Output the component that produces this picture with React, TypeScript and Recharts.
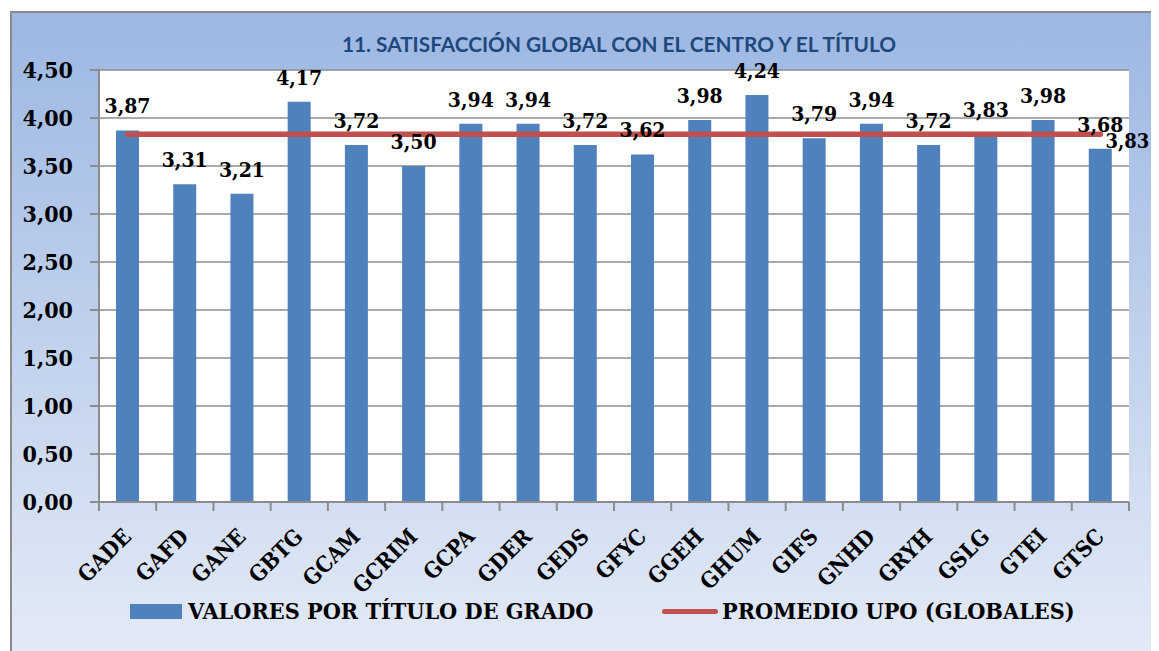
import { ComposedChart, Bar, Line, XAxis, YAxis, CartesianGrid, LabelList, Legend } from "recharts"

const grados = [
  "GADE", "GAFD", "GANE", "GBTG", "GCAM", "GCRIM", "GCPA", "GDER", "GEDS",
  "GFYC", "GGEH", "GHUM", "GIFS", "GNHD", "GRYH", "GSLG", "GTEI", "GTSC",
]
const valoresGrado = [
  3.87, 3.31, 3.21, 4.17, 3.72, 3.5, 3.94, 3.94, 3.72,
  3.62, 3.98, 4.24, 3.79, 3.94, 3.72, 3.83, 3.98, 3.68,
]
const promedioUPO = [
  3.83, 3.83, 3.83, 3.83, 3.83, 3.83, 3.83, 3.83, 3.83,
  3.83, 3.83, 3.83, 3.83, 3.83, 3.83, 3.83, 3.83, 3.83,
]
const yTicks = [0, 0.5, 1, 1.5, 2, 2.5, 3, 3.5, 4, 4.5]

const TITULO = "11. SATISFACCIÓN GLOBAL CON EL CENTRO Y EL TÍTULO"
const SERIE_BARRAS = "VALORES POR TÍTULO DE GRADO"
const SERIE_LINEA = "PROMEDIO UPO (GLOBALES)"

const data = grados.map((g, i) => ({ grado: g, valor: valoresGrado[i], promedio: promedioUPO[i] }))

const AZUL = "#4F81BD"
const ROJO = "#C0504D"
const GRIS = "#8c8c8c"
const SERIF = "'DejaVu Serif', serif"
const STRETCH = "condensed"

const fmt = (v: number | string) => Number(v).toFixed(2).replace(".", ",")

const XTick = (props: any) => {
  const { x, y, payload, index, visibleTicksCount } = props
  const half = payload?.offset ?? 28.6
  const last = index === (visibleTicksCount ?? grados.length) - 1
  return (
    <g>
      <line x1={x - half} y1={y} x2={x - half} y2={y + 9} stroke={GRIS} strokeWidth={2} />
      {last && <line x1={x + half} y1={y} x2={x + half} y2={y + 9} stroke={GRIS} strokeWidth={2} />}
      <g transform={`translate(${x + 5},${y + 36})`}>
        <text
          textAnchor="end"
          transform="rotate(-45)"
          fontFamily={SERIF}
          fontWeight="bold"
          fontSize={22}
          style={{ fontStretch: STRETCH }}
          fill="#000"
        >
          {payload.value}
        </text>
      </g>
    </g>
  )
}

const barLabel = (p: any) => (
  <text
    x={p.x + p.width / 2}
    y={p.y - 17}
    textAnchor="middle"
    fontFamily={SERIF}
    fontWeight="bold"
    fontSize={21}
    style={{ fontStretch: STRETCH }}
    fill="#000"
  >
    {fmt(p.value)}
  </text>
)

// solo el último punto de la línea lleva etiqueta
const lineLabel = (p: any) =>
  p.index === grados.length - 1 ? (
    <text
      x={p.x + 5}
      y={p.y + 14}
      fontFamily={SERIF}
      fontWeight="bold"
      fontSize={20}
      style={{ fontStretch: STRETCH }}
      fill="#000"
    >
      {fmt(p.value)}
    </text>
  ) : null

const renderLegend = () => (
  <div
    style={{
      position: "relative",
      width: 1147,
      height: 30,
      fontFamily: SERIF,
      fontWeight: "bold",
      fontSize: 23.2,
      fontStretch: STRETCH,
    }}
  >
    <div style={{ position: "absolute", left: 118, top: 8, width: 52, height: 15, background: AZUL }} />
    <div style={{ position: "absolute", left: 176, top: 2, whiteSpace: "nowrap", lineHeight: "26px" }}>{SERIE_BARRAS}</div>
    <div style={{ position: "absolute", left: 650, top: 13, width: 56, height: 5, borderRadius: 3, background: ROJO }} />
    <div style={{ position: "absolute", left: 710, top: 2, whiteSpace: "nowrap", lineHeight: "26px" }}>{SERIE_LINEA}</div>
  </div>
)

export default function App() {
  return (
    <div
      style={{
        position: "relative",
        marginLeft: 2,
        marginTop: 3,
        width: 1149,
        height: 640,
        boxSizing: "border-box",
        borderLeft: "2px solid #8a8a8a",
        borderTop: "2px solid #8a8a8a",
        background: "linear-gradient(to bottom, #9cb7e3 0%, #e3eaf6 100%)",
        overflow: "hidden",
      }}
    >
      <div
        style={{
          position: "absolute",
          left: 607,
          top: 18,
          transform: "translateX(-50%)",
          whiteSpace: "nowrap",
          fontFamily: "Lato, 'Open Sans', sans-serif",
          fontWeight: "bold",
          fontSize: 20.8,
          color: "#1F497D",
        }}
      >
        {TITULO}
      </div>
      <ComposedChart
        width={1147}
        height={638}
        data={data}
        margin={{ top: 57, right: 30, left: 7, bottom: 59 }}
        barCategoryGap="60%"
      >
        <CartesianGrid vertical={false} stroke={GRIS} strokeWidth={1.5} fill="#ffffff" fillOpacity={1} />
        <XAxis
          dataKey="grado"
          height={90}
          interval={0}
          tickSize={0}
          tickMargin={0}
          tickLine={false}
          axisLine={{ stroke: GRIS, strokeWidth: 2 }}
          tick={<XTick />}
        />
        <YAxis
          width={80}
          domain={[0, 4.5]}
          ticks={yTicks}
          tickFormatter={fmt}
          tickSize={9}
          tickMargin={17}
          axisLine={{ stroke: GRIS, strokeWidth: 2 }}
          tickLine={{ stroke: GRIS, strokeWidth: 2 }}
          tick={{ fontFamily: SERIF, fontWeight: "bold", fontSize: 23, fill: "#000", style: { fontStretch: STRETCH } }}
        />
        <Bar dataKey="valor" name={SERIE_BARRAS} fill={AZUL} barSize={23} isAnimationActive={false}>
          <LabelList dataKey="valor" content={barLabel} />
        </Bar>
        <Line
          dataKey="promedio"
          name={SERIE_LINEA}
          stroke={ROJO}
          strokeWidth={5.5}
          strokeLinecap="round"
          dot={false}
          activeDot={false}
          isAnimationActive={false}
        >
          <LabelList dataKey="promedio" content={lineLabel} />
        </Line>
        <Legend
          layout="horizontal"
          verticalAlign="middle"
          align="center"
          content={renderLegend}
          wrapperStyle={{ left: 0, top: 583, width: 1147, height: 30 }}
        />
      </ComposedChart>
    </div>
  )
}
